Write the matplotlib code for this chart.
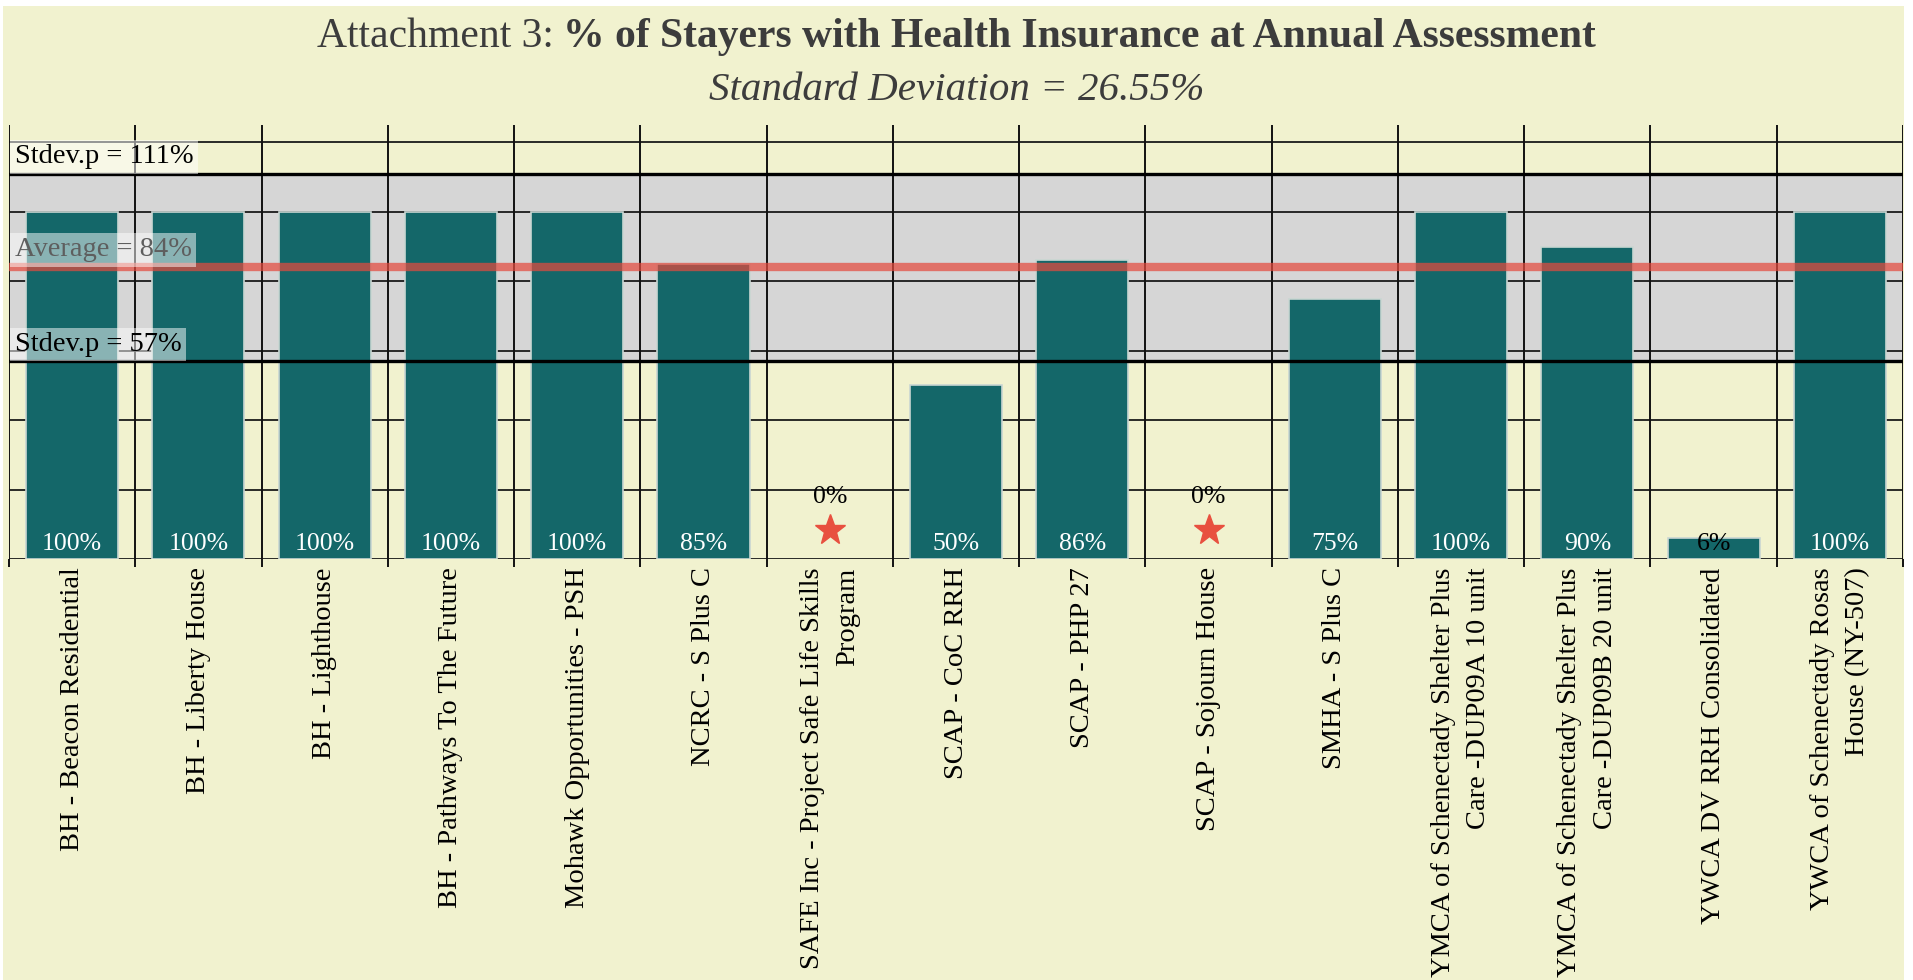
import matplotlib
matplotlib.use("Agg")
import matplotlib.pyplot as plt
from matplotlib.patches import Rectangle
import matplotlib.transforms as mtransforms
import numpy as np

# ---------------- data ----------------
categories = [
    "BH - Beacon Residential",
    "BH - Liberty House",
    "BH - Lighthouse",
    "BH - Pathways To The Future",
    "Mohawk Opportunities - PSH",
    "NCRC - S Plus C",
    "SAFE Inc - Project Safe Life Skills\nProgram",
    "SCAP - CoC RRH",
    "SCAP - PHP 27",
    "SCAP - Sojourn House",
    "SMHA - S Plus C",
    "YMCA of Schenectady Shelter Plus\nCare -DUP09A 10 unit",
    "YMCA of Schenectady Shelter Plus\nCare -DUP09B 20 unit",
    "YWCA DV RRH Consolidated",
    "YWCA of Schenectady Rosas\nHouse (NY-507)",
]
values = [100, 100, 100, 100, 100, 85, 0, 50, 86, 0, 75, 100, 90, 6, 100]
average = 84
stdev_upper = 111
stdev_lower = 57
std_dev = 26.55
y_ticks = [0, 20, 40, 60, 80, 100, 120]
y_max = 125

title_regular = "Attachment 3:"
title_bold = "% of Stayers with Health Insurance at Annual Assessment"
subtitle = f"Standard Deviation = {std_dev:.2f}%"

# ---------------- style ----------------
BG = "#F1F2CF"
BAR = "#146769"
BAND = "#D6D6D6"
RED = "#E44A3E"
STAR = "#E8503F"
TXT = "#3C3C3C"
FONT = "Liberation Serif"

W, H = 1913, 980
fig = plt.figure(figsize=(W / 100, H / 100), dpi=100)
fig.patch.set_facecolor("white")
fig.patches.append(Rectangle((3 / W, 0), (1904 - 3) / W, (H - 6) / H,
                             transform=fig.transFigure, facecolor=BG,
                             edgecolor="none", zorder=-10))

left, right, top, bottom = 9, 1903, 125, 559
ax = fig.add_axes([left / W, 1 - bottom / H, (right - left) / W, (bottom - top) / H])
ax.set_facecolor("none")
for s in ax.spines.values():
    s.set_visible(False)

n = len(categories)
x = np.arange(n)
ax.set_xlim(-0.5, n - 0.5)
ax.set_ylim(0, y_max)

# band between stdev lines
ax.axhspan(stdev_lower, stdev_upper, color=BAND, zorder=0.2, lw=0)

# horizontal gridlines
for yt in y_ticks:
    ax.axhline(yt, color="#1a1a1a", lw=1.3, zorder=0.5)

# category separator lines
for b in np.arange(n + 1) - 0.5:
    ax.axvline(b, color="#111111", lw=1.4, zorder=1)

# bars
bars = ax.bar(x, values, width=0.73, color=BAR, edgecolor="#c9d6d2", linewidth=1.2, zorder=2)
for patch, v in zip(bars.patches, values):
    if v == 0:
        patch.set_visible(False)

# stdev lines and average line
ax.axhline(stdev_upper, color="black", lw=2.4, zorder=3)
ax.axhline(stdev_lower, color="black", lw=2.4, zorder=3)
ax.axhline(average, color=RED, lw=6, alpha=0.72, zorder=4)

# reference line labels
trans = mtransforms.blended_transform_factory(ax.transAxes, ax.transData)
box = dict(facecolor="white", alpha=0.5, edgecolor="none", pad=3)
LBL = 20.5
ax.text(0.003, stdev_upper + 1.2, f"Stdev.p = {stdev_upper}%", transform=trans,
        ha="left", va="bottom", fontsize=LBL, family=FONT, color="black",
        bbox=box, zorder=6)
ax.text(0.003, average + 1.4, f"Average = {average}%", transform=trans,
        ha="left", va="bottom", fontsize=LBL, family=FONT, color="#5E5E5E",
        bbox=box, zorder=6)
ax.text(0.003, stdev_lower + 1.2, f"Stdev.p = {stdev_lower}%", transform=trans,
        ha="left", va="bottom", fontsize=LBL, family=FONT, color="black",
        bbox=box, zorder=6)

# bar value labels
for xi, v in zip(x, values):
    if v == 0:
        ax.plot(xi, 8.3, marker="*", markersize=23, color=STAR, linestyle="none", zorder=5)
        ax.text(xi, 16, f"{v}%", ha="center", va="baseline", fontsize=18.5,
                family=FONT, color="black", zorder=5)
    else:
        col = "white" if v >= 20 else "black"
        ax.text(xi, 2.5, f"{v}%", ha="center", va="baseline", fontsize=18.5,
                family=FONT, color=col, zorder=5)

# ticks
ax.set_xticks(x)
ax.set_xticklabels(categories, rotation=90, fontsize=20.5, family=FONT,
                   color="black", ha="center", va="top", multialignment="right",
                   linespacing=1.55)
ax.set_xticks(np.arange(n + 1) - 0.5, minor=True)
ax.tick_params(axis="x", which="major", length=0, pad=6)
ax.tick_params(axis="x", which="minor", length=6, width=1.4, color="#111111")
ax.set_yticks([])

# titles
fig.canvas.draw()
r = fig.canvas.get_renderer()
TS = 30
ty = 1 - 37 / H
t1 = fig.text(0, ty, title_regular, fontsize=TS, family=FONT, color=TXT,
              ha="left", va="center")
t2 = fig.text(0, ty, title_bold, fontsize=TS, family=FONT, color=TXT,
              weight="bold", ha="left", va="center")
w1 = t1.get_window_extent(r).width
w2 = t2.get_window_extent(r).width
space = TS * 0.3
total = w1 + space + w2
x0 = (W - total) / 2
t1.set_x(x0 / W)
t2.set_x((x0 + w1 + space) / W)
fig.text(0.5, 1 - 91 / H, subtitle, fontsize=29.5, family=FONT, style="italic",
         color=TXT, ha="center", va="center")

fig.savefig("out.png", dpi=100, facecolor=fig.get_facecolor())
